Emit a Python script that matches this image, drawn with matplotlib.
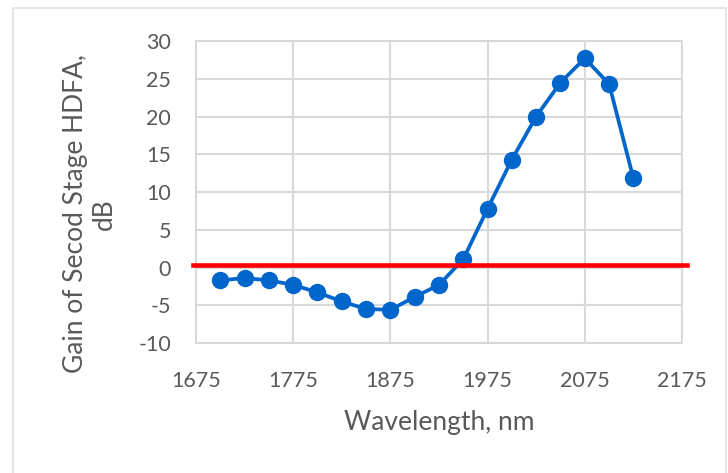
import matplotlib.pyplot as plt
from matplotlib.patches import Rectangle

wavelength = [1700, 1725, 1750, 1775, 1800, 1825, 1850, 1875, 1900, 1925,
              1950, 1975, 2000, 2025, 2050, 2075, 2100, 2125]
gain = [-1.7, -1.4, -1.7, -2.3, -3.3, -4.5, -5.5, -5.6, -3.9, -2.3,
        1.1, 7.8, 14.3, 20.0, 24.5, 27.7, 24.3, 11.8]
x_ticks = [1675, 1775, 1875, 1975, 2075, 2175]
y_ticks = [-10, -5, 0, 5, 10, 15, 20, 25, 30]
zero_x = [1672, 2180]
zero_y = [0.3, 0.3]

plt.rcParams['font.family'] = ['Lato', 'DejaVu Sans']
text_col = '#595959'
grid_col = '#d9d9d9'

fig = plt.figure(figsize=(7.28, 4.73), dpi=100)
fig.patches.append(Rectangle((13 / 728, -0.1), 713 / 728, 1.1 - 8 / 473,
                             transform=fig.transFigure, fill=False,
                             edgecolor='#e0e0e0', lw=1.2))
ax = fig.add_axes([196 / 728, 1 - 343 / 473, 486 / 728, 302 / 473])

ax.plot(wavelength, gain, color='#0066cc', lw=2.7, marker='o',
        markersize=11.5, zorder=3)
ax.plot(zero_x, zero_y, color='#ff0000', lw=3.3, zorder=4, clip_on=False)

ax.set_xlim(1675, 2175)
ax.set_ylim(-10, 30)
ax.set_xticks(x_ticks)
ax.set_yticks(y_ticks)
ax.set_yticklabels([str(v) for v in y_ticks])
ax.grid(True, color=grid_col, lw=1.5)
ax.set_axisbelow(True)
for s in ax.spines.values():
    s.set_color(grid_col)
    s.set_linewidth(1.5)
ax.tick_params(length=0, labelsize=15.5, labelcolor=text_col)
ax.tick_params(axis='y', pad=18)
ax.tick_params(axis='x', pad=20)

fig.text(439 / 728, 1 - 422 / 473, 'Wavelength, nm', fontsize=19,
         color=text_col, ha='center', va='center')
fig.text(90 / 728, 1 - 214 / 473, 'Gain of Secod Stage HDFA,\ndB',
         fontsize=19, color=text_col, ha='center', va='center',
         rotation=90, multialignment='center', linespacing=1.15)

fig.savefig('out.png', dpi=100)
